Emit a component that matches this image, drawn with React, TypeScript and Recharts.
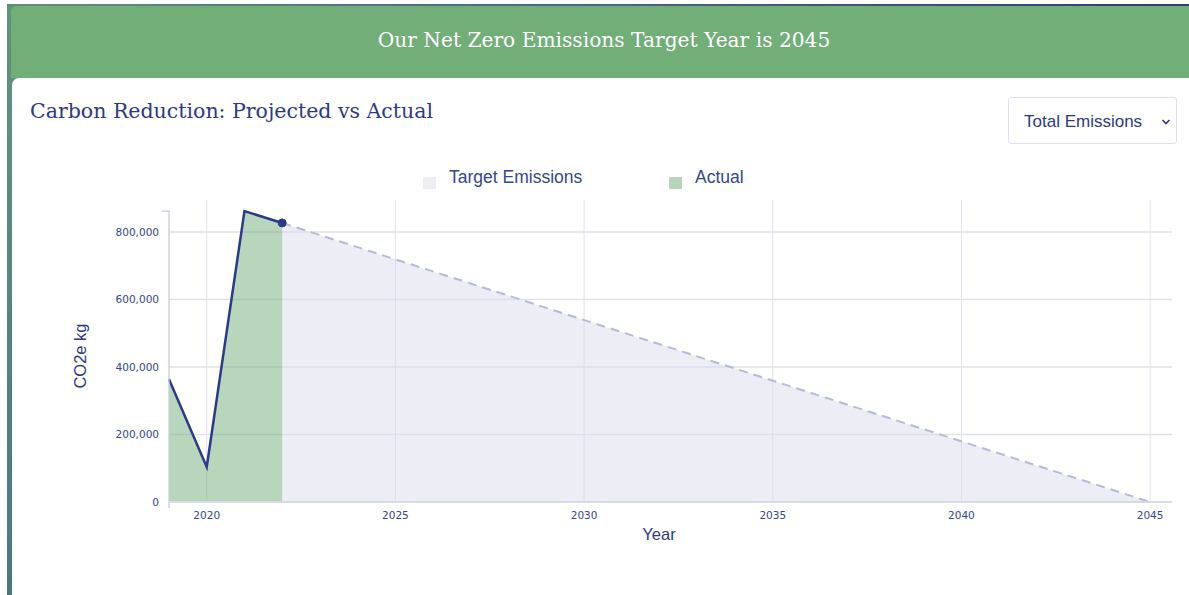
import React from 'react';
import {
  ComposedChart,
  Area,
  XAxis,
  YAxis,
  CartesianGrid,
  Legend,
  ReferenceLine,
} from 'recharts';

// ---- data ----
const years = [2019, 2020, 2021, 2022, 2045];
const actualCo2 = [364000, 104000, 862000, 827000, null];
const targetCo2 = [null, null, null, 827000, 0];
const xTicks = [2020, 2025, 2030, 2035, 2040, 2045];
const yTicks = [0, 200000, 400000, 600000, 800000];
const seriesNames = { target: 'Target Emissions', actual: 'Actual' };
const legendOrder = ['target', 'actual'];

const data = years.map((year, i) => ({
  year,
  actual: actualCo2[i],
  target: targetCo2[i],
}));
const maxActual = Math.max(...actualCo2.filter((v): v is number => v !== null));
const lastActualIndex = actualCo2.reduce((acc: number, v, i) => (v !== null ? i : acc), -1);

// ---- styles ----
const NAVY = '#2b3a8a';
const TICK = '#34469a';
const GREEN = '#72ae78';
const LAVENDER = '#dcdcee';
const DASH = '#b7bad8';
const GRID = '#e0e1ec';

const fillFor: Record<string, string> = { target: LAVENDER, actual: GREEN };

const fmt = (v: number) => v.toLocaleString('en-US');

const ActualDot = (props: any) => {
  const { cx, cy, index } = props;
  if (index !== lastActualIndex || cx == null || cy == null) return <g key={`d${index}`} />;
  return <circle key={`d${index}`} cx={cx} cy={cy} r={4} fill={NAVY} stroke={NAVY} />;
};

const AxisShape = (props: any) => {
  const { x1, y1, x2, y2 } = props;
  const top = Math.min(y1, y2);
  const bottom = Math.max(y1, y2);
  return (
    <path
      d={`M${x1 - 7},${top} H${x1} V${bottom + 6}`}
      stroke="#c9cbdc"
      strokeWidth={1.3}
      fill="none"
    />
  );
};

const LegendContent = (props: any) => {
  const payload = [...(props.payload || [])].sort(
    (a: any, b: any) => legendOrder.indexOf(a.dataKey) - legendOrder.indexOf(b.dataKey)
  );
  const lefts = [423, 669];
  return (
    <div style={{ position: 'relative', width: 1189, height: 30 }}>
      {payload.map((entry: any, i: number) => (
        <div key={entry.dataKey} style={{ position: 'absolute', left: lefts[i] ?? 0, top: 0 }}>
          <div
            style={{
              position: 'absolute',
              left: 0,
              top: 17,
              width: 13,
              height: 12,
              background: fillFor[entry.dataKey],
              opacity: 0.5,
            }}
          />
          <div
            style={{
              position: 'absolute',
              left: 26,
              top: 9,
              whiteSpace: 'nowrap',
              fontFamily: '"Liberation Sans", Arial, sans-serif',
              fontSize: 17.5,
              lineHeight: '17.5px',
              color: '#34469a',
            }}
          >
            {entry.value}
          </div>
        </div>
      ))}
    </div>
  );
};

export default function App() {
  return (
    <div
      style={{
        position: 'relative',
        width: 1189,
        height: 595,
        background: '#ffffff',
        overflow: 'hidden',
        fontFamily: '"Liberation Sans", Arial, sans-serif',
      }}
    >
      <style>{`body{margin:0;}`}</style>
      {/* frame */}
      <div
        style={{
          position: 'absolute',
          left: 7,
          top: 4,
          width: 1182,
          height: 591,
          background: 'linear-gradient(180deg, #62937b 0%, #4c7584 100%)',
        }}
      />
      <div
        style={{
          position: 'absolute',
          left: 7,
          top: 4,
          width: 1182,
          height: 2,
          background: 'linear-gradient(90deg, #5f8f7c 0%, #2e3c8a 100%)',
        }}
      />
      {/* green header */}
      <div
        style={{
          position: 'absolute',
          left: 11,
          top: 6,
          width: 1178,
          height: 72,
          background: '#72ae78',
          borderTopLeftRadius: 5,
        }}
      />
      <div
        style={{
          position: 'absolute',
          left: 11,
          top: 25,
          width: 1186,
          textAlign: 'center',
          color: '#ffffff',
          fontFamily: '"DejaVu Serif", serif',
          fontSize: 20.2,
          lineHeight: '30px',
        }}
      >
        Our Net Zero Emissions Target Year is 2045
      </div>
      {/* white card */}
      <div
        style={{
          position: 'absolute',
          left: 12,
          top: 78,
          width: 1177,
          height: 517,
          background: '#ffffff',
          borderTopLeftRadius: 7,
        }}
      />
      <div
        style={{
          position: 'absolute',
          left: 30,
          top: 96,
          color: '#2c3a8c',
          fontFamily: '"DejaVu Serif", serif',
          fontSize: 20.5,
          lineHeight: '30px',
          whiteSpace: 'nowrap',
        }}
      >
        Carbon Reduction: Projected vs Actual
      </div>
      {/* dropdown */}
      <div
        style={{
          position: 'absolute',
          left: 1008,
          top: 97,
          width: 167,
          height: 45,
          border: '1px solid #dde1f3',
          borderRadius: 3,
          background: '#fff',
          boxSizing: 'content-box',
        }}
      >
        <div
          style={{
            position: 'absolute',
            left: 15,
            top: 13,
            fontSize: 17,
            lineHeight: '22px',
            color: '#2c3a8c',
            whiteSpace: 'nowrap',
          }}
        >
          Total Emissions
        </div>
        <svg style={{ position: 'absolute', left: 152, top: 20 }} width={10} height={8}>
          <path d="M1.5,2 L5,5.5 L8.5,2" stroke="#2c3a8c" strokeWidth={1.6} fill="none" />
        </svg>
      </div>
      {/* chart */}
      <div
        style={{
          position: 'absolute',
          left: 0,
          top: 160,
          width: 1189,
          height: 413,
        }}
      >
        <ComposedChart
          width={1189}
          height={413}
          data={data}
          margin={{ top: 40, right: 17, bottom: 41, left: 89 }}
        >
          <CartesianGrid horizontal={false} verticalValues={xTicks} stroke={GRID} strokeWidth={1} />
          <CartesianGrid vertical={false} horizontalValues={yTicks} stroke={GRID} strokeWidth={1.5} />
          <XAxis
            dataKey="year"
            type="number"
            domain={[2019, 2045.58]}
            ticks={xTicks}
            tickFormatter={(v: number) => String(v)}
            tick={{ fill: TICK, fontSize: 10.5, fontFamily: '"DejaVu Sans", Verdana, sans-serif' }}
            tickLine={false}
            tickMargin={4}
            axisLine={{ stroke: '#d9dae8', strokeWidth: 2 }}
            height={30}
            label={{
              content: () => (
                <text
                  x={659}
                  y={380}
                  textAnchor="middle"
                  fill={NAVY}
                  fontSize={16.5}
                  fontFamily='"Liberation Sans", Arial, sans-serif'
                >
                  Year
                </text>
              ),
            }}
          />
          <YAxis
            type="number"
            domain={[0, 895000]}
            ticks={yTicks}
            tickFormatter={fmt}
            tick={{ fill: TICK, fontSize: 10.5, fontFamily: '"DejaVu Sans", Verdana, sans-serif' }}
            tickLine={false}
            tickMargin={4}
            axisLine={false}
            width={80}
            label={{
              content: () => (
                <text
                  x={86}
                  y={196}
                  textAnchor="middle"
                  fill={NAVY}
                  fontSize={16.5}
                  fontFamily='"Liberation Sans", Arial, sans-serif'
                  transform="rotate(-90 86 196)"
                >
                  CO2e kg
                </text>
              ),
            }}
          />
          <Legend
            verticalAlign="middle"
            align="center"
            layout="horizontal"
            wrapperStyle={{ top: 0, left: 0, width: 1189, height: 30 }}
            content={<LegendContent />}
          />
          <Area
            name={seriesNames.target}
            dataKey="target"
            type="linear"
            stroke={DASH}
            strokeWidth={2}
            strokeDasharray="9 6"
            fill={LAVENDER}
            fillOpacity={0.5}
            dot={false}
            activeDot={false}
            isAnimationActive={false}
          />
          <Area
            name={seriesNames.actual}
            dataKey="actual"
            type="linear"
            stroke={NAVY}
            strokeWidth={2.5}
            fill={GREEN}
            fillOpacity={0.5}
            dot={<ActualDot />}
            activeDot={false}
            isAnimationActive={false}
          />
          <ReferenceLine
            segment={[
              { x: 2019, y: 0 },
              { x: 2019, y: maxActual },
            ]}
            ifOverflow="visible"
            shape={<AxisShape />}
          />
        </ComposedChart>
      </div>
    </div>
  );
}
